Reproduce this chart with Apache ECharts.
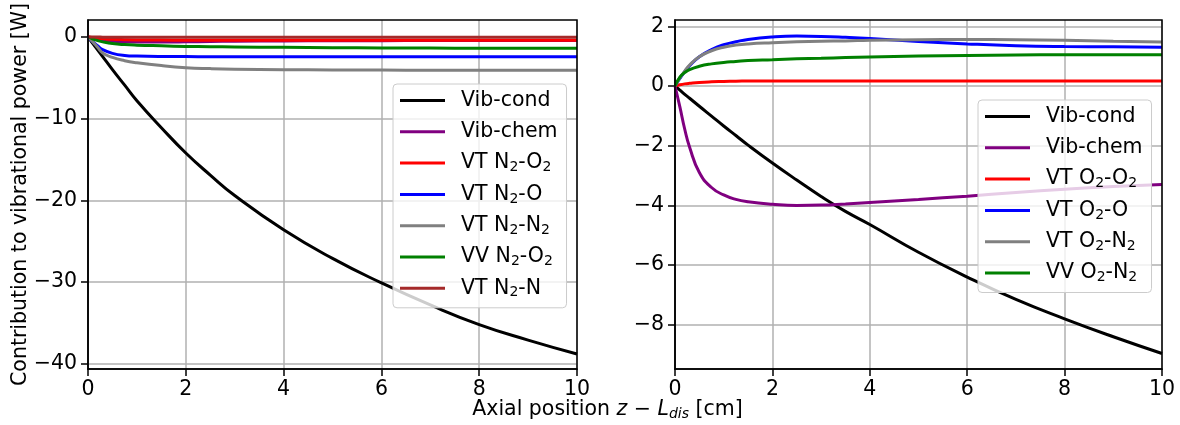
<!DOCTYPE html>
<html>
<head>
<meta charset="utf-8">
<script src="https://cdn.jsdelivr.net/npm/echarts@6/dist/echarts.min.js"></script>
<style>
  html, body { margin: 0; padding: 0; background: #ffffff; }
  #chart { width: 1180px; height: 425px; }
</style>
</head>
<body>
<div id="chart"></div>
<script>
// ---- N2 vibrational power budget [W] vs axial position [cm] ----
const zN = [0, 0.1, 0.2, 0.3, 0.5, 0.75, 1, 1.5, 2, 2.5, 3, 4, 5, 6, 7, 8, 9, 10];
const n2VibCond = [0, -0.8, -1.6, -2.4, -4.0, -5.9, -7.8, -11.1, -14.2, -16.9, -19.4, -23.6, -27.1, -30.1, -32.8, -35.2, -37.1, -38.8];
const n2VibChem = [0, -0.15, -0.3, -0.4, -0.52, -0.58, -0.6, -0.61, -0.59, -0.55, -0.52, -0.48, -0.46, -0.45, -0.44, -0.44, -0.43, -0.43];
const n2VtO2 = [0, -0.08, -0.15, -0.2, -0.28, -0.33, -0.36, -0.38, -0.39, -0.4, -0.4, -0.41, -0.41, -0.41, -0.41, -0.41, -0.41, -0.41];
const n2VtO = [0, -0.6, -1.1, -1.55, -2.0, -2.26, -2.34, -2.39, -2.4, -2.41, -2.41, -2.41, -2.41, -2.41, -2.41, -2.41, -2.41, -2.41];
const n2VtN2 = [0, -0.6, -1.3, -1.95, -2.5, -2.9, -3.15, -3.5, -3.75, -3.87, -3.94, -4.0, -4.03, -4.05, -4.06, -4.07, -4.08, -4.08];
const n2VvO2 = [0, -0.25, -0.45, -0.6, -0.8, -0.93, -1.0, -1.08, -1.15, -1.19, -1.22, -1.27, -1.31, -1.34, -1.36, -1.37, -1.38, -1.39];
const n2VtN = [0, -0.01, -0.01, -0.02, -0.02, -0.02, -0.02, -0.02, -0.02, -0.02, -0.02, -0.02, -0.02, -0.02, -0.02, -0.02, -0.02, -0.02];

// ---- O2 vibrational power budget [W] vs axial position [cm] ----
const zO = [0, 0.1, 0.2, 0.3, 0.5, 0.75, 1, 1.25, 1.5, 2, 2.5, 3, 3.5, 4, 5, 6, 7, 8, 9, 10];
const o2VibCond = [0, -0.14, -0.28, -0.41, -0.68, -1.01, -1.34, -1.66, -1.98, -2.58, -3.15, -3.7, -4.2, -4.64, -5.57, -6.4, -7.15, -7.8, -8.4, -8.96];
const o2VibChem = [0, -0.7, -1.45, -2.05, -2.9, -3.4, -3.65, -3.8, -3.88, -3.96, -4.0, -3.99, -3.95, -3.9, -3.8, -3.69, -3.57, -3.46, -3.37, -3.3];
const o2VtO2 = [0, 0.04, 0.07, 0.09, 0.12, 0.14, 0.15, 0.16, 0.165, 0.17, 0.17, 0.17, 0.17, 0.17, 0.17, 0.17, 0.17, 0.17, 0.17, 0.17];
const o2VtO = [0, 0.25, 0.48, 0.68, 0.98, 1.22, 1.38, 1.48, 1.56, 1.64, 1.67, 1.66, 1.63, 1.59, 1.49, 1.41, 1.35, 1.32, 1.31, 1.3];
const o2VtN2 = [0, 0.27, 0.5, 0.7, 0.98, 1.18, 1.3, 1.37, 1.41, 1.45, 1.48, 1.5, 1.51, 1.53, 1.55, 1.56, 1.55, 1.53, 1.5, 1.47];
const o2VvN2 = [0, 0.3, 0.45, 0.55, 0.66, 0.74, 0.79, 0.82, 0.85, 0.88, 0.91, 0.93, 0.95, 0.97, 1.0, 1.02, 1.04, 1.05, 1.05, 1.05];

// ---- axes ----
const xTicks = [0, 2, 4, 6, 8, 10];
const yTicksN2 = [-40, -30, -20, -10, 0];
const yTicksO2 = [-8, -6, -4, -2, 0, 2];
const xRange = [0, 10];
const yRangeN2 = [-40.64, 2.08];
const yRangeO2 = [-9.48, 2.21];

const namesN2 = ['Vib-cond', 'Vib-chem', 'VT N_2-O_2', 'VT N_2-O', 'VT N_2-N_2', 'VV N_2-O_2', 'VT N_2-N'];
const namesO2 = ['Vib-cond', 'Vib-chem', 'VT O_2-O_2', 'VT O_2-O', 'VT O_2-N_2', 'VV O_2-N_2'];
const colorsN2 = ['#000000', '#800080', '#ff0000', '#0000ff', '#808080', '#008000', '#a52a2a'];
const colorsO2 = ['#000000', '#800080', '#ff0000', '#0000ff', '#808080', '#008000'];
const valuesN2 = [n2VibCond, n2VibChem, n2VtO2, n2VtO, n2VtN2, n2VvO2, n2VtN];
const valuesO2 = [o2VibCond, o2VibChem, o2VtO2, o2VtO, o2VtN2, o2VvN2];

const FONT = 'DejaVu Sans';
const FS = 20.5;
const minus = v => String(v).replace('-', '\u2212');

function pairs(xs, ys) { return xs.map((x, i) => [x, ys[i]]); }

function makeSeries(names, colors, values, xs, idx) {
  return names.map((name, i) => ({
    name: name,
    type: 'line',
    xAxisIndex: idx,
    yAxisIndex: idx,
    data: pairs(xs, values[i]),
    showSymbol: false,
    smooth: 0.5,
    itemStyle: { color: colors[i] },
    lineStyle: { color: colors[i], width: 3 },
    emphasis: { disabled: true },
    z: 2 + i * 0.01
  }));
}

function xAxisDef(idx) {
  return {
    gridIndex: idx, type: 'value', min: xRange[0], max: xRange[1],
    axisLine: { show: true, onZero: false, lineStyle: { color: '#000', width: 1.5 } },
    axisTick: { show: true, length: 7, customValues: xTicks, lineStyle: { color: '#000', width: 1.5 } },
    axisLabel: { color: '#000', fontSize: FS, fontFamily: FONT, margin: 10, formatter: minus, customValues: xTicks },
    splitLine: { show: true, lineStyle: { color: '#b0b0b0', width: 1.5 } }
  };
}

function yAxisDef(idx, range, ticks) {
  return {
    gridIndex: idx, type: 'value', min: range[0], max: range[1],
    axisLine: { show: true, onZero: false, lineStyle: { color: '#000', width: 1.5 } },
    axisTick: { show: true, length: 7, customValues: ticks, lineStyle: { color: '#000', width: 1.5 } },
    axisLabel: { color: '#000', fontSize: FS, fontFamily: FONT, margin: 11, formatter: minus, customValues: ticks },
    splitLine: { show: true, lineStyle: { color: '#b0b0b0', width: 1.5 } }
  };
}

function legendDef(names, left, top) {
  return {
    data: names,
    orient: 'vertical',
    left: left, top: top,
    icon: 'rect',
    itemWidth: 45, itemHeight: 3,
    itemGap: 8.3,
    padding: [5, 9, 8, 7],
    backgroundColor: 'rgba(255,255,255,0.8)',
    borderColor: '#cccccc', borderWidth: 1, borderRadius: 4,
    selectedMode: false,
    itemStyle: { borderWidth: 0 },
    formatter: n => n.replace(/_2/g, '{s|2}'),
    textStyle: {
      color: '#000', fontSize: FS, fontFamily: FONT, lineHeight: 23, padding: [0, 0, 0, 11],
      rich: { s: { fontSize: 14, fontFamily: FONT, color: '#000', lineHeight: 13, verticalAlign: 'bottom' } }
    }
  };
}

const chart = echarts.init(document.getElementById('chart'), null, { renderer: 'canvas' });

const option = {
  animation: false,
  backgroundColor: '#ffffff',
  textStyle: { fontFamily: FONT },
  grid: [
    { left: 88, right: 603, top: 20, bottom: 56 },
    { left: 675, right: 18, top: 20, bottom: 56 }
  ],
  xAxis: [xAxisDef(0), xAxisDef(1)],
  yAxis: [yAxisDef(0, yRangeN2, yTicksN2), yAxisDef(1, yRangeO2, yTicksO2)],
  legend: [legendDef(namesN2, 393, 84), legendDef(namesO2, 978, 100)],
  series: makeSeries(namesN2, colorsN2, valuesN2, zN, 0).concat(makeSeries(namesO2, colorsO2, valuesO2, zO, 1)),
  graphic: [
    {
      type: 'text', x: 21, y: 194.5, rotation: Math.PI / 2,
      style: { text: 'Contribution to vibrational power [W]', fontSize: FS, fontFamily: FONT, fill: '#000',
               align: 'center', verticalAlign: 'middle' }
    },
    {
      type: 'text', x: 607.5, y: 410,
      style: {
        text: 'Axial position {i|z} \u2212 {i|L}{d|dis} [cm]',
        fontSize: FS, fontFamily: FONT, fill: '#000', align: 'center', verticalAlign: 'middle', lineHeight: 23,
        rich: {
          i: { fontSize: FS, fontFamily: FONT, fontStyle: 'italic', fill: '#000', lineHeight: 23 },
          d: { fontSize: 14, fontFamily: FONT, fontStyle: 'italic', fill: '#000', lineHeight: 13, verticalAlign: 'bottom' }
        }
      }
    }
  ]
};

chart.setOption(option);

// Frame (all four spines) of each panel, drawn over the grid lines
function frame(idx, yr) {
  const a = chart.convertToPixel({ gridIndex: idx }, [xRange[0], yr[1]]);
  const b = chart.convertToPixel({ gridIndex: idx }, [xRange[1], yr[0]]);
  return {
    type: 'rect', z: 100, silent: true,
    shape: { x: a[0], y: a[1], width: b[0] - a[0], height: b[1] - a[1] },
    style: { fill: 'none', stroke: '#000', lineWidth: 1.5 }
  };
}
const graphics = option.graphic.concat([frame(0, yRangeN2), frame(1, yRangeO2)]);
chart.setOption({ graphic: graphics }, { replaceMerge: ['graphic'] });
</script>
</body>
</html>
